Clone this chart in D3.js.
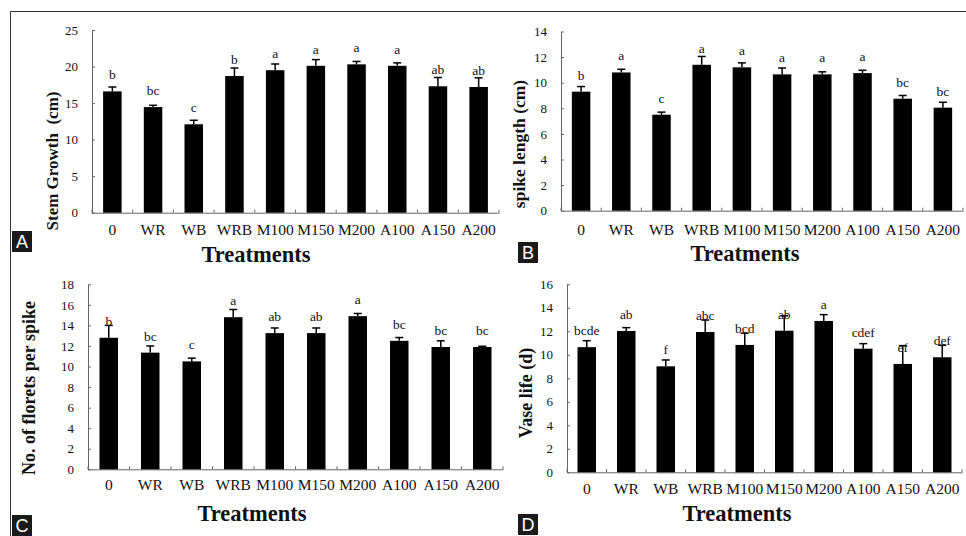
<!DOCTYPE html>
<html>
<head>
<meta charset="utf-8">
<script src="https://cdn.jsdelivr.net/npm/d3@7"></script>
<style>
  body { margin: 0; background: #fff; }
  svg { display: block; }
  .tick text { font-family: "Liberation Serif", "Times New Roman", serif; fill: #111; }
</style>
</head>
<body>
<div id="graph-area"></div>
<script>
var treatments = ["0", "WR", "WB", "WRB", "M100", "M150", "M200", "A100", "A150", "A200"];

var stemGrowth = [16.6, 14.45, 12.1, 18.7, 19.5, 20.1, 20.3, 20.1, 17.3, 17.2];
var stemGrowthErr = [0.6, 0.25, 0.55, 1.1, 0.85, 0.85, 0.4, 0.4, 1.2, 1.25];
var stemGrowthLetters = ["b", "bc", "c", "b", "a", "a", "a", "a", "ab", "ab"];
var stemGrowthTicks = [0, 5, 10, 15, 20, 25];

var spikeLength = [9.3, 10.8, 7.5, 11.4, 11.2, 10.65, 10.65, 10.75, 8.75, 8.05];
var spikeLengthErr = [0.4, 0.25, 0.2, 0.65, 0.35, 0.5, 0.2, 0.22, 0.25, 0.42];
var spikeLengthLetters = ["b", "a", "c", "a", "a", "a", "a", "a", "bc", "bc"];
var spikeLengthTicks = [0, 2, 4, 6, 8, 10, 12, 14];

var florets = [12.8, 11.35, 10.5, 14.8, 13.25, 13.25, 14.9, 12.5, 11.9, 11.9];
var floretsErr = [1.2, 0.65, 0.32, 0.75, 0.5, 0.5, 0.26, 0.32, 0.6, 0.07];
var floretsLetters = ["b", "bc", "c", "a", "ab", "ab", "a", "bc", "bc", "bc"];
var floretsTicks = [0, 2, 4, 6, 8, 10, 12, 14, 16, 18];

var vaseLife = [10.65, 12.03, 9.02, 11.94, 10.84, 12.05, 12.88, 10.52, 9.22, 9.79];
var vaseLifeErr = [0.55, 0.28, 0.54, 1.02, 1.0, 1.27, 0.54, 0.43, 1.56, 1.02];
var vaseLifeLetters = ["bcde", "ab", "f", "abc", "bcd", "ab", "a", "cdef", "ef", "def"];
var vaseLifeTicks = [0, 2, 4, 6, 8, 10, 12, 14, 16];

var serif = "'Liberation Serif', 'Times New Roman', serif";

var svg = d3.select("#graph-area").append("svg")
    .attr("width", 966)
    .attr("height", 536);

// outer frame (top and left only)
svg.append("path")
    .attr("d", "M10.5,536V11.5H966")
    .attr("fill", "none")
    .attr("stroke", "#333")
    .attr("stroke-width", 1);

// panel layout
var panels = [
    {letter: "A", values: stemGrowth, err: stemGrowthErr, letters: stemGrowthLetters, ticks: stemGrowthTicks,
     label: "Stem Growth  (cm)", labelSize: 17, labelX: 52, labelY: 161,
     x0: 92, x1: 499, yTop: 30, yBottom: 212.7, catY: 235, titleX: 256, titleY: 262,
     box: [12, 231]},
    {letter: "B", values: spikeLength, err: spikeLengthErr, letters: spikeLengthLetters, ticks: spikeLengthTicks,
     label: "spike length (cm)", labelSize: 17.5, labelX: 519, labelY: 144,
     x0: 561, x1: 963, yTop: 31.5, yBottom: 210.7, catY: 235, titleX: 745, titleY: 261,
     box: [518, 242]},
    {letter: "C", values: florets, err: floretsErr, letters: floretsLetters, ticks: floretsTicks,
     label: "No. of florets per spike", labelSize: 18, labelX: 29, labelY: 388,
     x0: 88, x1: 503, yTop: 284.3, yBottom: 469.3, catY: 490, titleX: 252, titleY: 521,
     box: [12, 515]},
    {letter: "D", values: vaseLife, err: vaseLifeErr, letters: vaseLifeLetters, ticks: vaseLifeTicks,
     label: "Vase life (d)", labelSize: 18, labelX: 526, labelY: 393,
     x0: 567, x1: 962, yTop: 284.3, yBottom: 472.3, catY: 494, titleX: 737, titleY: 521,
     box: [518, 514]}
];

panels.forEach(drawPanel);

function drawPanel(p) {
    var g = svg.append("g").attr("class", "panel-" + p.letter);

    var x = d3.scaleBand()
        .domain(treatments)
        .range([p.x0, p.x1])
        .padding(0);

    var y = d3.scaleLinear()
        .domain([0, d3.max(p.ticks)])
        .range([p.yBottom, p.yTop]);

    var barW = 18.5;
    var data = treatments.map(function(t, i) {
        return {name: t, value: p.values[i], err: p.err[i], letter: p.letters[i]};
    });

    // y axis, ticks pointing inward
    var yAxis = g.append("g")
        .attr("transform", "translate(" + p.x0 + ",0)")
        .call(d3.axisLeft(y).tickValues(p.ticks).tickSizeInner(-3).tickSizeOuter(0).tickPadding(14));
    yAxis.select(".domain").attr("stroke", "#666");
    yAxis.selectAll(".tick line").attr("stroke", "#666");
    yAxis.selectAll(".tick text").attr("font-size", 13);

    // x axis line and category labels
    var xAxis = g.append("g")
        .attr("transform", "translate(0," + p.yBottom + ")")
        .call(d3.axisBottom(x).tickSize(0).tickPadding(p.catY - p.yBottom - 11));
    xAxis.select(".domain").attr("stroke", "#666");
    xAxis.selectAll(".tick text").attr("font-size", 15.5);

    // boundary ticks between categories
    g.selectAll(".xtick")
        .data(d3.range(treatments.length + 1))
        .enter().append("line")
        .attr("class", "xtick")
        .attr("x1", function(i) { return p.x0 + i * x.step(); })
        .attr("x2", function(i) { return p.x0 + i * x.step(); })
        .attr("y1", p.yBottom)
        .attr("y2", p.yBottom - 3)
        .attr("stroke", "#666");

    // bars
    g.selectAll(".bar")
        .data(data)
        .enter().append("rect")
        .attr("class", "bar")
        .attr("x", function(d) { return x(d.name) + x.bandwidth() / 2 - barW / 2; })
        .attr("width", barW)
        .attr("y", function(d) { return y(d.value); })
        .attr("height", function(d) { return y(0) - y(d.value); })
        .attr("fill", "#000");

    // upper error bars
    var eb = g.selectAll(".err")
        .data(data)
        .enter().append("g")
        .attr("class", "err")
        .attr("transform", function(d) { return "translate(" + (x(d.name) + x.bandwidth() / 2) + ",0)"; });
    eb.append("line")
        .attr("x1", 0).attr("x2", 0)
        .attr("y1", function(d) { return y(d.value); })
        .attr("y2", function(d) { return y(d.value + d.err); })
        .attr("stroke", "#000")
        .attr("stroke-width", 1.5);
    eb.append("line")
        .attr("x1", -4).attr("x2", 4)
        .attr("y1", function(d) { return y(d.value + d.err); })
        .attr("y2", function(d) { return y(d.value + d.err); })
        .attr("stroke", "#000")
        .attr("stroke-width", 1.5);

    // significance letters
    g.selectAll(".sig")
        .data(data)
        .enter().append("text")
        .attr("class", "sig")
        .attr("x", function(d) { return x(d.name) + x.bandwidth() / 2; })
        .attr("y", function(d) { return y(d.value) - 12; })
        .attr("text-anchor", "middle")
        .attr("font-family", serif)
        .attr("font-size", 13.5)
        .attr("fill", "#111")
        .text(function(d) { return d.letter; });

    // y title
    g.append("text")
        .attr("transform", "translate(" + p.labelX + "," + p.labelY + ") rotate(-90)")
        .attr("text-anchor", "middle")
        .attr("dominant-baseline", "central")
        .attr("font-family", serif)
        .attr("font-weight", "bold")
        .attr("font-size", p.labelSize)
        .style("white-space", "pre")
        .attr("fill", "#111")
        .text(p.label);

    // x title
    g.append("text")
        .attr("x", p.titleX)
        .attr("y", p.titleY)
        .attr("text-anchor", "middle")
        .attr("font-family", serif)
        .attr("font-weight", "bold")
        .attr("font-size", 22.5)
        .attr("fill", "#111")
        .text("Treatments");

    // panel letter box
    g.append("rect")
        .attr("x", p.box[0])
        .attr("y", p.box[1])
        .attr("width", 20)
        .attr("height", 21)
        .attr("fill", "#1a1a1a");
    g.append("text")
        .attr("x", p.box[0] + 10)
        .attr("y", p.box[1] + 17)
        .attr("text-anchor", "middle")
        .attr("font-family", "'Liberation Sans', Arial, sans-serif")
        .attr("font-size", 18)
        .attr("fill", "#fff")
        .text(p.letter);
}
</script>
</body>
</html>
